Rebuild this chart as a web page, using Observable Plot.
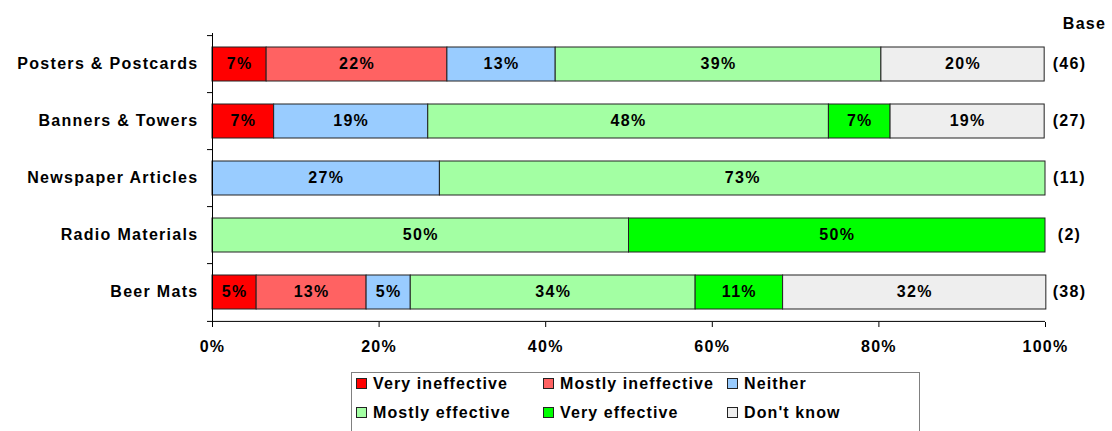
<!DOCTYPE html>
<html>
<head>
<meta charset="utf-8">
<script src="https://cdn.jsdelivr.net/npm/d3@7"></script>
<script src="https://cdn.jsdelivr.net/npm/@observablehq/plot@0.6"></script>
<style>
  html, body { margin: 0; padding: 0; background: #fff; }
  body { width: 1112px; height: 431px; overflow: hidden; font-family: "Liberation Sans", Arial, sans-serif; }
  #legend {
    position: absolute; left: 351px; top: 372px; width: 569px; height: 70px;
    border: 1px solid #808080; box-sizing: border-box; background: #fff;
  }
  .item { position: absolute; font-weight: bold; font-size: 16px; color: #000; white-space: nowrap; letter-spacing: 1.1px; }
  .sw { display: inline-block; width: 9px; height: 9px; border: 1px solid #222; margin-right: 6px; vertical-align: 0px; }
</style>
</head>
<body>
<div id="chart"></div>
<div id="legend"></div>
<script>
const categories = ["Posters & Postcards", "Banners & Towers", "Newspaper Articles", "Radio Materials", "Beer Mats"];
const bases = [46, 27, 11, 2, 38];
const seriesNames = ["Very ineffective", "Mostly ineffective", "Neither", "Mostly effective", "Very effective", "Don't know"];
const seriesColors = ["#ff0000", "#ff6262", "#99ccff", "#a3ffa3", "#00ff00", "#eeeeee"];
// percentages per category, in series order
const veryIneffective   = [6.5, 7.4, 0, 0, 5.3];
const mostlyIneffective = [21.7, 0, 0, 0, 13.2];
const neither           = [13.0, 18.5, 27.3, 0, 5.3];
const mostlyEffective   = [39.1, 48.1, 72.7, 50, 34.2];
const veryEffective     = [0, 7.4, 0, 50, 10.5];
const dontKnow          = [19.6, 18.5, 0, 0, 31.6];
const xTicks = [0, 20, 40, 60, 80, 100];

const seriesValues = [veryIneffective, mostlyIneffective, neither, mostlyEffective, veryEffective, dontKnow];
const data = [];
categories.forEach((c, i) => {
  seriesNames.forEach((s, j) => {
    const v = seriesValues[j][i];
    if (v > 0) data.push({cat: c, series: s, value: v});
  });
});
const baseData = categories.map((c, i) => ({cat: c, base: `(${bases[i]})`}));

const W = 1112, H = 365, mTop = 33, mBottom = 43, mLeft = 212, mRight = 67;
const step = (H - mTop - mBottom) / categories.length;
const font = {fontFamily: "'Liberation Sans', Arial, sans-serif", fontWeight: "bold", fontSize: 16};

const chart = Plot.plot({
  width: W, height: H,
  marginTop: mTop, marginBottom: mBottom, marginLeft: mLeft, marginRight: mRight,
  style: {fontFamily: font.fontFamily, fontSize: "16px", fontWeight: "bold", color: "#000", background: "#fff", letterSpacing: "1.3px"},
  x: {domain: [0, 100], ticks: xTicks, tickFormat: d => d + "%", label: null},
  y: {domain: categories, paddingInner: 0.41, paddingOuter: 0.205, label: null},
  color: {domain: seriesNames, range: seriesColors},
  marks: [
    Plot.barX(data, {x: "value", y: "cat", fill: "series", stroke: "#222", strokeWidth: 1, order: seriesNames}),
    Plot.text(data, Plot.stackX({x: "value", y: "cat", z: "series", order: seriesNames,
      text: d => Math.round(d.value) + "%", fill: "#000", dy: -1, ...font})),
    Plot.ruleX([0], {stroke: "#000", strokeWidth: 1}),
    Plot.ruleY(categories, {y: d => d, x1: -0.6, x2: 0, dy: -step / 2, stroke: "#000"}),
    Plot.ruleY([categories[categories.length - 1]], {y: d => d, x1: 0, x2: 100, dy: step / 2, stroke: "#000"}),
    Plot.ruleY([categories[categories.length - 1]], {y: d => d, x1: -0.6, x2: 0, dy: step / 2, stroke: "#000"}),
    Plot.axisX({ticks: xTicks, tickFormat: d => d + "%", tickSize: 5, tickPadding: 13, stroke: "#000", ...font}),
    Plot.axisY({tickSize: 0, tickPadding: 14, dy: -1, ...font, style: {letterSpacing: "1.7px"}}),
    Plot.text(baseData, {x: 100, y: "cat", text: "base", dx: 24, dy: -1, textAnchor: "middle", fill: "#000", ...font}),
    Plot.text(["Base"], {frameAnchor: "top-right", dx: 39, dy: -16, textAnchor: "middle", fill: "#000", ...font})
  ]
});
document.getElementById("chart").appendChild(chart);

const legend = document.getElementById("legend");
const cols = [4, 191, 375];
const rows = [2, 31];
seriesNames.forEach((s, i) => {
  const el = document.createElement("div");
  el.className = "item";
  el.style.left = cols[i % 3] + "px";
  el.style.top = rows[Math.floor(i / 3)] + "px";
  el.innerHTML = `<span class="sw" style="background:${seriesColors[i]}"></span>${s}`;
  legend.appendChild(el);
});
</script>
</body>
</html>
